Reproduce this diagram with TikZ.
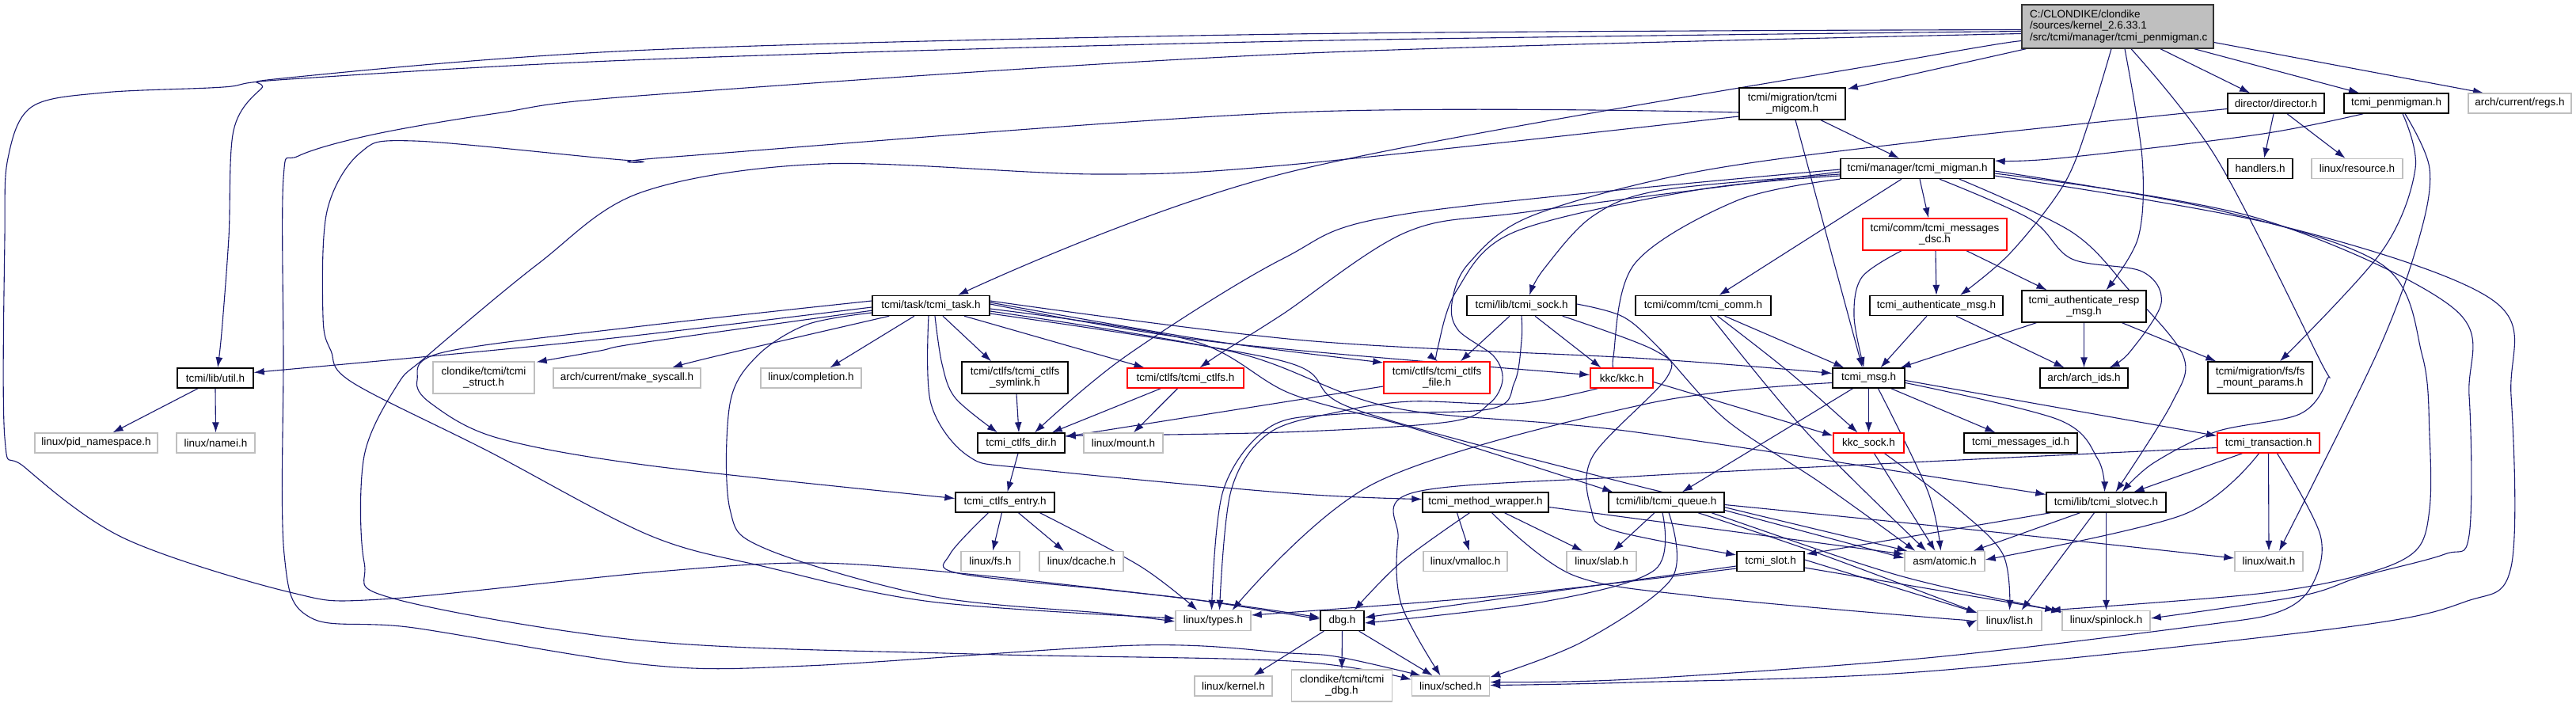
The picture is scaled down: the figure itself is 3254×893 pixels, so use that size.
\documentclass[tikz,border=0pt]{standalone}
\usepackage{fontspec}
\setmainfont{Liberation Sans}
\usetikzlibrary{arrows.meta,calc}
\definecolor{eb}{HTML}{191970}
\definecolor{gb}{HTML}{BFBFBF}
\pgfdeclarelayer{edges}
\pgfsetlayers{edges,main}
\tikzset{
 nb/.style={rectangle, line width=1.4pt, fill=white, minimum height=25pt, inner xsep=1pt, inner ysep=0pt, align=center, font=\fontsize{13.5}{14.5}\selectfont},
 blk/.style={nb, draw=black},
 gry/.style={nb, draw=gb},
 rd/.style={nb, draw=red},
 rootbox/.style={nb, draw=black!80, fill=gb, align=left, minimum height=55pt, inner xsep=10pt},
 e/.style={draw=eb, line width=1.1pt, -{Latex[length=13pt,width=9pt]}},
 sm/.style={smooth, tension=0.55}
}
\begin{document}
\begin{tikzpicture}[x=1pt,y=-1pt]
\useasboundingbox (0,0) rectangle (3254,893);
% ---------------- nodes ----------------
\node[rootbox, minimum width=242pt, text width=222pt] (R) at (2675,33.5) {C:/CLONDIKE/clondike\\/sources/kernel\_2.6.33.1\\/src/tcmi/manager/tcmi\_penmigman.c};
\node[blk, minimum width=134pt, minimum height=40pt] (migcom) at (2264,131) {tcmi/migration/tcmi\\\_migcom.h};
\node[blk, minimum width=122pt] (director) at (2875,130.5) {director/director.h};
\node[blk, minimum width=132pt] (penmig) at (3027,130.5) {tcmi\_penmigman.h};
\node[gry, minimum width=130pt] (regs) at (3183,130.5) {arch/current/regs.h};
\node[blk, minimum width=194pt] (migman) at (2422,213) {tcmi/manager/tcmi\_migman.h};
\node[blk, minimum width=82pt] (handlers) at (2855,213) {handlers.h};
\node[gry, minimum width=115pt] (resource) at (2977.5,213) {linux/resource.h};
\node[rd, minimum width=182pt, minimum height=40pt] (msgdsc) at (2444,296) {tcmi/comm/tcmi\_messages\\\_dsc.h};
\node[blk, minimum width=138pt] (sock) at (1922,386) {tcmi/lib/tcmi\_sock.h};
\node[blk, minimum width=171pt] (comm) at (2151.5,386) {tcmi/comm/tcmi\_comm.h};
\node[blk, minimum width=168pt] (authmsg) at (2446,386) {tcmi\_authenticate\_msg.h};
\node[blk, minimum width=157pt, minimum height=40pt] (authresp) at (2632.5,387) {tcmi\_authenticate\_resp\\\_msg.h};
\node[blk, minimum width=148pt] (task) at (1176,386) {tcmi/task/tcmi\_task.h};
\node[blk, minimum width=96pt] (util) at (272,477.5) {tcmi/lib/util.h};
\node[gry, minimum width=128pt, minimum height=40pt] (struct) at (611,477) {clondike/tcmi/tcmi\\\_struct.h};
\node[gry, minimum width=186pt] (mksys) at (792,477.5) {arch/current/make\_syscall.h};
\node[gry, minimum width=127pt] (completion) at (1024.5,477.5) {linux/completion.h};
\node[blk, minimum width=134pt, minimum height=40pt] (symlink) at (1282,477) {tcmi/ctlfs/tcmi\_ctlfs\\\_symlink.h};
\node[rd, minimum width=147pt] (ctlfs) at (1497.5,477.5) {tcmi/ctlfs/tcmi\_ctlfs.h};
\node[rd, minimum width=134pt, minimum height=40pt] (ctlfsfile) at (1815,477) {tcmi/ctlfs/tcmi\_ctlfs\\\_file.h};
\node[rd, minimum width=79pt] (kkc) at (2048.5,477.5) {kkc/kkc.h};
\node[blk, minimum width=91pt] (msg) at (2360.5,477.5) {tcmi\_msg.h};
\node[blk, minimum width=111pt] (archids) at (2632.5,477.5) {arch/arch\_ids.h};
\node[blk, minimum width=132pt, minimum height=40pt] (fsmount) at (2855,477) {tcmi/migration/fs/fs\\\_mount\_params.h};
\node[gry, minimum width=155pt] (pidns) at (121.5,559.5) {linux/pid\_namespace.h};
\node[gry, minimum width=99pt] (namei) at (272.5,559.5) {linux/namei.h};
\node[blk, minimum width=110pt] (ctlfsdir) at (1290,559.5) {tcmi\_ctlfs\_dir.h};
\node[gry, minimum width=100pt] (mount) at (1419,559.5) {linux/mount.h};
\node[rd, minimum width=89pt] (kkcsock) at (2360.5,559.5) {kkc\_sock.h};
\node[blk, minimum width=143pt] (msgid) at (2552.5,559.5) {tcmi\_messages\_id.h};
\node[rd, minimum width=129pt] (trans) at (2865.5,559.5) {tcmi\_transaction.h};
\node[blk, minimum width=125pt] (entry) at (1269.5,634.5) {tcmi\_ctlfs\_entry.h};
\node[blk, minimum width=159pt] (wrapper) at (1876.5,634.5) {tcmi\_method\_wrapper.h};
\node[blk, minimum width=146pt] (queue) at (2105,634.5) {tcmi/lib/tcmi\_queue.h};
\node[blk, minimum width=151pt] (slotvec) at (2660.5,634.5) {tcmi/lib/tcmi\_slotvec.h};
\node[gry, minimum width=74pt] (fs) at (1251,709) {linux/fs.h};
\node[gry, minimum width=106pt] (dcache) at (1366,709) {linux/dcache.h};
\node[gry, minimum width=106pt] (vmalloc) at (1851,709) {linux/vmalloc.h};
\node[gry, minimum width=88pt] (slab) at (2023,709) {linux/slab.h};
\node[blk, minimum width=85pt] (slot) at (2236.5,709) {tcmi\_slot.h};
\node[gry, minimum width=101pt] (atomic) at (2456.5,709) {asm/atomic.h};
\node[gry, minimum width=86pt] (wait) at (2866,709) {linux/wait.h};
\node[gry, minimum width=95pt] (types) at (1532.5,784) {linux/types.h};
\node[blk, minimum width=55pt] (dbg) at (1695.5,784) {dbg.h};
\node[gry, minimum width=81pt] (list) at (2538.5,784) {linux/list.h};
\node[gry, minimum width=111pt] (spinlock) at (2660.5,784) {linux/spinlock.h};
\node[gry, minimum width=98pt] (kernel) at (1558,866.5) {linux/kernel.h};
\node[gry, minimum width=127pt, minimum height=40pt] (tcmidbg) at (1695,866) {clondike/tcmi/tcmi\\\_dbg.h};
\node[gry, minimum width=98pt] (sched) at (1832.5,866.5) {linux/sched.h};
\begin{pgfonlayer}{edges}
\fill[white] (0,0) rectangle (3254,893);
% ---------------- edges: root ----------------
\draw[e] plot[sm] coordinates {($(R.west)+(0,4)$) (1630,43) (820,63) (366,98) (330,112) (295,165) (289,300) (280,420) ($(util.north)+(3,0)$)};
\draw[e] plot[sm] coordinates {($(R.west)+(0,6)$) (1630,52) (820,75) (366,100) (282,110) (131,117) (40,135) (10,200) (6,300) (6,553) (31,590) (157,680) (366,748) (481,757) (820,723) (1019,711) (1202,723) (1514,758) ($(dbg.west)+(0,-4)$)};
\draw[e] plot[sm] coordinates {($(R.west)+(0,9)$) (1630,68) (820,120) (628,143) (471,170) (377,197) (358,225) (358,450) (359,700) (392,780) (523,793) (820,840) (1019,841) (1437,815) (1630,825) (1692,830) ($(sched.north west)+(12,0)$)};
\draw[e] plot[sm] coordinates {($(R.south west)+(0,-9)$) (2440,70) (1630,217) ($(task.north)+(34,0)$)};
\draw[e] ($(R.south west)+(6,0)$) -- ($(migcom.north east)+(2,2)$);
\draw[e] plot[sm] coordinates {($(R.south)+(-8,0)$) (2640,150) (2607,233) (2539,320) ($(authmsg.north)+(30,0)$)};
\draw[e] plot[sm] coordinates {($(R.south)+(9,0)$) (2706,200) (2701,300) ($(authresp.north)+(28,0)$)};
\draw[e] plot[sm] coordinates {($(R.south)+(17,0)$) (2800,200) (2928,450) (2939,480) (2905,523) (2800,545) (2720,585) ($(slotvec.north)+(20,0)$)};
\draw[e] ($(R.south)+(54,0)$) -- ($(director.north)+(-33,0)$);
\draw[e] ($(R.south east)+(-25,0)$) -- ($(penmig.north)+(-47,0)$);
\draw[e] ($(R.east)+(0,20)$) -- ($(regs.north)+(-46,0)$);
% ---------------- migcom ----------------
\draw[e] ($(migcom.south)+(36,0)$) -- ($(migman.north)+(-23,0)$);
\draw[e] ($(migcom.south)+(4,0)$) -- ($(msg.north)+(-8,0)$);
\draw[e] plot[sm] coordinates {($(migcom.west)+(0,11)$) (1630,142) (852,198) (800,203) (523,178) (455,193) (413,267) (408,400) (418,443) (445,483) (617,570) (820,676) (967,716) (1176,760) ($(types.west)+(0,-3)$)};
\draw[e] plot[sm] coordinates {($(migcom.west)+(0,16)$) (1630,208) (1385,220) (1040,207) (810,243) (680,333) (539,450) (502,486) (460,576) (460,710) (497,756) (820,810) (1228,826) (1630,835) ($(sched.west)+(0,-8)$)};
% ---------------- task ----------------
\draw[e] plot[sm] coordinates {($(task.west)+(0,-6)$) (810,412) (560,445) (527,480) (545,510) (628,553) (820,588) ($(entry.west)+(0,-5)$)};
\draw[e] plot[sm] coordinates {($(task.west)+(0,2)$) (810,423) (617,443) ($(util.east)+(0,-7)$)};
\draw[e] plot[sm] coordinates {($(task.south west)+(0,-7)$) (810,433) (758,443) ($(struct.north east)+(2,1)$)};
\draw[e] plot[sm] coordinates {($(task.south west)+(22,0)$) (904,450) ($(mksys.north)+(57,0)$)};
\draw[e] ($(task.south)+(-21,0)$) -- ($(completion.north)+(24,0)$);
\draw[e] plot[sm] coordinates {($(task.west)+(0,9)$) (1019,410) (956,450) (922,510) (922,643) (967,693) (1176,753) (1400,775) ($(types.west)+(0,1)$)};
\draw[e] ($(task.south)+(15,0)$) -- ($(symlink.north)+(-30,0)$);
\draw[e] plot[sm] coordinates {($(task.south)+(5,0)$) (1190,460) (1207,503) ($(ctlfsdir.north)+(-30,0)$)};
\draw[e] plot[sm] coordinates {($(task.south)+(-3,0)$) (1176,510) (1223,576) (1300,592) (1630,623) ($(wrapper.west)+(0,-4)$)};
\draw[e] ($(task.south)+(42,0)$) -- ($(ctlfs.north)+(-52,0)$);
\draw[e] plot[sm] coordinates {($(task.east)+(0,-4)$) (1527,430) ($(ctlfsfile.west)+(0,-19)$)};
\draw[e] plot[sm] coordinates {($(task.east)+(0,-2)$) (1536,432) ($(kkc.west)+(0,-4)$)};
\draw[e] plot[sm] coordinates {($(task.east)+(0,-6)$) (1648,430) (2080,453) ($(msg.west)+(0,-6)$)};
\draw[e] plot[sm] coordinates {($(task.east)+(0,4)$) (1505,430) (1630,497) (1782,540) ($(queue.north west)+(6,0)$)};
\draw[e] plot[sm] coordinates {($(task.east)+(0,7)$) (1560,445) (1760,515) (2060,545) ($(slotvec.west)+(0,-10)$)};
\draw[e] plot[sm] coordinates {($(task.east)+(0,10)$) (1620,456) (1709,516) (2038,606) ($(atomic.north west)+(4,0)$)};
% ---------------- migman ----------------
\draw[e] ($(migman.south)+(-20,0)$) -- ($(comm.north)+(20,0)$);
\draw[e] ($(migman.south)+(3,0)$) -- ($(msgdsc.north)+(-8,0)$);
\draw[e] plot[sm] coordinates {($(migman.west)+(0,7)$) (2100,240) (2012,273) (1950,340) ($(sock.north)+(10,0)$)};
\draw[e] plot[sm] coordinates {($(migman.south west)+(0,0)$) (2195,253) (2065,333) (2038,450) ($(kkc.north)+(-6,0)$)};
\draw[e] plot[sm] coordinates {($(migman.west)+(0,9)$) (2143,240) (1913,293) (1840,367) (1816,440) ($(ctlfsfile.north)+(1,0)$)};
\draw[e] plot[sm] coordinates {($(migman.west)+(0,4)$) (1934,267) (1777,293) (1620,397) (1547,443) ($(ctlfs.north)+(18,0)$)};
\draw[e] plot[sm] coordinates {($(migman.west)+(0,1)$) (1777,270) (1620,327) (1422,450) ($(ctlfsdir.north)+(17,0)$)};
\draw[e] plot[sm] coordinates {($(migman.south)+(28,0)$) (2565,277) (2617,327) (2706,343) (2730,383) (2690,445) ($(archids.north)+(32,0)$)};
\draw[e] plot[sm] coordinates {($(migman.south)+(53,0)$) (2617,293) (2690,367) (2758,450) (2743,510) ($(slotvec.north)+(12,0)$)};
\draw[e] plot[sm] coordinates {($(migman.east)+(0,3)$) (2800,265) (3010,335) (3060,450) (3069,550) (3069,643) (3051,696) (2983,726) (2852,750) ($(list.north east)+(10,0)$)};
\draw[e] plot[sm] coordinates {($(migman.east)+(0,6)$) (2850,275) (3100,390) (3119,500) (3119,676) (3088,700) (2983,728) (2905,753) ($(spinlock.east)+(0,-3)$)};
\draw[e] plot[sm] coordinates {($(migman.east)+(0,9)$) (2880,285) (3150,380) (3172,500) (3172,716) (3114,760) (2957,793) (2434,848) (2060,862) ($(sched.east)+(0,-1)$)};
% ---------------- penmigman / director ----------------
\draw[e] plot[sm] coordinates {($(penmig.south west)+(25,0)$) (2852,170) (2600,200) ($(migman.east)+(0,-10)$)};
\draw[e] plot[sm] coordinates {($(penmig.south)+(8,0)$) (3051,213) (3009,317) ($(fsmount.north)+(25,0)$)};
\draw[e] plot[sm] coordinates {($(penmig.south)+(11,0)$) (3069,213) (3056,300) (3004,443) ($(wait.north)+(13,0)$)};
\draw[e] ($(director.south)+(-3,0)$) -- ($(handlers.north)+(5,0)$);
\draw[e] ($(director.south)+(14,0)$) -- ($(resource.north)+(-15,0)$);
\draw[e] plot[sm] coordinates {($(director.west)+(0,7)$) (2440,177) (2143,217) (1934,273) (1855,333) (1834,383) (1842,417) (1887,450) (1898,480) (1881,510) (1829,533) (1620,546) ($(ctlfsdir.east)+(0,-9)$)};
% ---------------- msgdsc / auth / comm ----------------
\draw[e] ($(msgdsc.south)+(1,0)$) -- (authmsg.north);
\draw[e] ($(msgdsc.south)+(40,0)$) -- ($(authresp.north)+(-47,0)$);
\draw[e] plot[sm] coordinates {($(msgdsc.south)+(-42,0)$) (2352,350) (2342,400) ($(msg.north)+(-6,0)$)};
\draw[e] ($(authmsg.south)+(-12,0)$) -- ($(msg.north)+(15,0)$);
\draw[e] ($(authmsg.south)+(25,0)$) -- ($(archids.north)+(-25,0)$);
\draw[e] ($(authresp.south west)+(19,0)$) -- ($(msg.north east)+(-6,0)$);
\draw[e] (authresp.south) -- (archids.north);
\draw[e] ($(authresp.south)+(48,0)$) -- ($(fsmount.north west)+(11,0)$);
\draw[e] ($(comm.south)+(27,0)$) -- ($(msg.north west)+(15,0)$);
\draw[e] plot[sm] coordinates {($(comm.south)+(18,0)$) (2260,470) ($(kkcsock.north)+(-14,0)$)};
\draw[e] plot[sm] coordinates {($(comm.south)+(9,0)$) (2283,547) ($(atomic.north west)+(28,0)$)};
% ---------------- sock / kkc ----------------
\draw[e] ($(sock.south)+(-15,0)$) -- ($(ctlfsfile.north)+(30,0)$);
\draw[e] plot[sm] coordinates {(sock.south) (1922,430) (1913,483) (1880,517) (1692,523) (1603,540) (1545,620) ($(types.north)+(-2,0)$)};
\draw[e] ($(sock.south)+(17,0)$) -- ($(kkc.north west)+(14,0)$);
\draw[e] plot[sm] coordinates {($(sock.south east)+(-18,0)$) (2091,443) (2106,476) (2012,576) (2010,643) (2038,670) ($(slot.west)+(0,-8)$)};
\draw[e] plot[sm] coordinates {($(sock.east)+(0,-2)$) (2050,400) (2096,440) (2180,530) (2300,610) ($(atomic.north west)+(14,0)$)};
\draw[e] ($(kkc.east)+(0,5)$) -- ($(kkcsock.north west)+(0,4)$);
\draw[e] plot[sm] coordinates {($(kkc.south west)+(10,0)$) (1916,510) (1782,507) (1692,520) (1603,547) (1555,620) ($(types.north)+(8,0)$)};
% ---------------- msg ----------------
\draw[e] ($(msg.south)+(-20,0)$) -- ($(queue.north)+(20,0)$);
\draw[e] (msg.south) -- (kkcsock.north);
\draw[e] plot[sm] coordinates {($(msg.south)+(12,0)$) (2435,620) ($(atomic.north)+(-5,0)$)};
\draw[e] ($(msg.south east)+(-18,0)$) -- ($(msgid.north)+(-32,0)$);
\draw[e] plot[sm] coordinates {($(msg.east)+(0,6)$) (2600,530) (2650,580) ($(slotvec.north)+(-2,0)$)};
\draw[e] ($(msg.east)+(0,3)$) -- ($(trans.west)+(0,-9)$);
\draw[e] plot[sm] coordinates {($(msg.west)+(0,6)$) (2080,510) (1737,610) ($(types.north)+(24,0)$)};
% ---------------- transaction ----------------
\draw[e] ($(trans.south)+(-33,0)$) -- ($(slotvec.north)+(35,0)$);
\draw[e] plot[sm] coordinates {($(trans.south)+(-12,0)$) (2758,650) ($(atomic.east)+(0,-2)$)};
\draw[e] (trans.south) -- (wait.north);
\draw[e] plot[sm] coordinates {($(trans.south)+(11,0)$) (2931,676) (2920,740) (2878,773) (2780,790) (2434,831) (2060,858) ($(sched.east)+(0,-5)$)};
\draw[e] plot[sm] coordinates {($(trans.west)+(0,6)$) (2434,583) (2060,602) (1786,622) (1766,680) (1770,763) ($(sched.north)+(-13,0)$)};
% ---------------- kkc_sock / wrapper / queue ----------------
\draw[e] ($(kkcsock.south)+(7,0)$) -- ($(atomic.north)+(-12,0)$);
\draw[e] plot[sm] coordinates {($(kkcsock.south)+(20,0)$) (2470,640) (2530,700) (list.north)};
\draw[e] ($(wrapper.south)+(-36,0)$) -- ($(vmalloc.north)+(5,0)$);
\draw[e] ($(wrapper.south)+(24,0)$) -- ($(slab.north)+(-24,0)$);
\draw[e] plot[sm] coordinates {($(wrapper.south)+(-20,0)$) (1770,710) ($(dbg.north)+(15,0)$)};
\draw[e] ($(wrapper.east)+(0,6)$) -- ($(atomic.west)+(0,-9)$);
\draw[e] plot[sm] coordinates {($(wrapper.south)+(8,0)$) (1986,726) (2143,753) (2440,780) ($(list.west)+(0,-1)$)};
\draw[e] ($(queue.south)+(-15,0)$) -- ($(slab.north)+(15,0)$);
\draw[e] plot[sm] coordinates {($(queue.south)+(-5,0)$) (2090,720) (1950,760) ($(dbg.east)+(0,3)$)};
\draw[e] plot[sm] coordinates {($(queue.south)+(3,0)$) (2112,730) (2000,810) ($(sched.north east)+(0,2)$)};
\draw[e] ($(queue.east)+(0,10)$) -- ($(atomic.west)+(0,-4)$);
\draw[e] plot[sm] coordinates {($(queue.south)+(40,0)$) (2300,700) ($(list.north west)+(0,3)$)};
\draw[e] plot[sm] coordinates {($(queue.south)+(57,0)$) (2350,712) (2450,740) ($(spinlock.north west)+(0,2)$)};
\draw[e] plot[sm] coordinates {($(queue.east)+(0,3)$) (2500,670) ($(wait.west)+(0,-4)$)};
% ---------------- slot / slotvec ----------------
\draw[e] ($(slot.west)+(0,6)$) -- ($(dbg.east)+(0,-4)$);
\draw[e] plot[sm] coordinates {($(slot.west)+(0,9)$) (1900,752) ($(types.east)+(0,-7)$)};
\draw[e] ($(slot.east)+(0,-2)$) -- ($(list.west)+(0,-10)$);
\draw[e] ($(slot.east)+(0,8)$) -- ($(spinlock.north west)+(-8,0)$);
\draw[e] ($(slotvec.south west)+(6,0)$) -- ($(slot.east)+(2,-9)$);
\draw[e] ($(slotvec.south)+(-33,0)$) -- ($(atomic.north east)+(-15,0)$);
\draw[e] ($(slotvec.south)+(-15,0)$) -- ($(list.north)+(15,0)$);
\draw[e] (slotvec.south) -- (spinlock.north);
% ---------------- ctlfs family ----------------
\draw[e] ($(entry.south)+(-4,0)$) -- ($(fs.north)+(3,0)$);
\draw[e] ($(entry.south)+(17,0)$) -- ($(dcache.north)+(-22,0)$);
\draw[e] plot[sm] coordinates {($(entry.south)+(44,0)$) (1440,715) ($(types.north)+(-20,0)$)};
\draw[e] plot[sm] coordinates {($(entry.south)+(-21,0)$) (1200,700) (1210,724) (1400,745) (1514,758) ($(dbg.west)+(0,-2)$)};
\draw[e] ($(ctlfsdir.south)+(-4,0)$) -- ($(entry.north)+(3,0)$);
\draw[e] ($(ctlfs.south west)+(43,0)$) -- ($(ctlfsdir.north east)+(-17,0)$);
\draw[e] ($(ctlfs.south)+(-10,0)$) -- ($(mount.north)+(13,0)$);
\draw[e] ($(symlink.south)+(2,0)$) -- ($(ctlfsdir.north)+(-3,0)$);
\draw[e] ($(ctlfsfile.west)+(0,11)$) -- ($(ctlfsdir.east)+(0,-8)$);
% ---------------- dbg / util ----------------
\draw[e] ($(dbg.south west)+(5,0)$) -- ($(kernel.north east)+(-24,0)$);
\draw[e] (dbg.south) -- (tcmidbg.north);
\draw[e] ($(dbg.south east)+(-7,0)$) -- ($(sched.north west)+(27,0)$);
\draw[e] ($(util.south)+(-22,0)$) -- ($(pidns.north)+(21,0)$);
\draw[e] (util.south) -- (namei.north);
\end{pgfonlayer}
\end{tikzpicture}
\end{document}
